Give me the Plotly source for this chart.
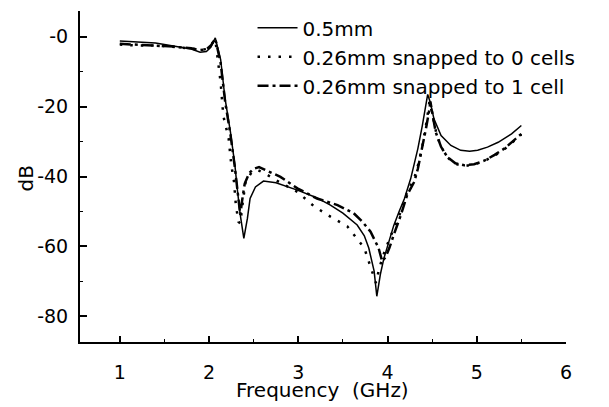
import plotly.graph_objects as go

# 0.5mm (solid)
freq_a = [1.0, 1.2, 1.4, 1.6, 1.8, 1.9, 1.97, 2.02, 2.07, 2.13, 2.18, 2.24, 2.29, 2.32, 2.35, 2.39,
          2.43, 2.46, 2.52, 2.61, 2.75, 2.99, 3.2, 3.36, 3.5, 3.66, 3.74, 3.79, 3.85, 3.88,
          3.92, 3.96, 4.0, 4.07, 4.13, 4.19, 4.26, 4.34, 4.39, 4.43, 4.45, 4.48, 4.52, 4.6,
          4.71, 4.82, 4.92, 5.01, 5.12, 5.24, 5.39, 5.5]
db_a = [-1.2, -1.4, -1.8, -2.6, -3.5, -4.4, -4.2, -3.0, -0.3, -6.5, -17.8, -27.3, -36.8, -44.4, -51.0, -57.7,
        -52.0, -46.3, -43.0, -41.3, -41.8, -43.9, -46.0, -48.2, -50.5, -53.9, -57.0, -60.5, -67.1, -74.3,
        -68.0, -63.4, -60.0, -54.0, -50.0, -46.3, -40.6, -32.0, -25.4, -18.8, -16.5, -18.8, -23.5, -28.3,
        -31.1, -32.5, -32.8, -32.5, -31.6, -30.2, -27.8, -25.4]

# 0.26mm snapped to 0 cells (dotted)
freq_b = [1.0, 1.2, 1.4, 1.6, 1.8, 1.9, 1.97, 2.02, 2.07, 2.13, 2.16, 2.22, 2.25, 2.28, 2.30, 2.33,
          2.35, 2.38, 2.41, 2.48, 2.55, 2.65, 2.8, 2.99, 3.18, 3.36, 3.55, 3.74, 3.78, 3.82, 3.87,
          3.91, 3.96, 4.02, 4.07, 4.15, 4.22, 4.30, 4.35, 4.40, 4.44, 4.47, 4.51, 4.55, 4.60,
          4.67, 4.76, 4.86, 4.97, 5.09, 5.2, 5.31, 5.4, 5.5]
db_b = [-2.2, -2.5, -2.5, -2.9, -3.3, -3.8, -3.5, -2.3, -0.8, -13.0, -22.6, -29.2, -36.8, -41.5, -48.0, -53.0,
        -53.4, -47.0, -41.5, -38.7, -38.2, -39.5, -41.8, -44.4, -48.6, -51.5, -54.3, -60.5, -63.5, -66.5, -70.5,
        -66.0, -62.0, -58.0, -55.0, -50.0, -44.5, -40.5, -36.0, -30.0, -24.0, -18.5, -23.0, -28.0, -31.5,
        -34.5, -36.4, -37.0, -36.6, -35.5, -34.0, -32.2, -30.2, -28.0]

# 0.26mm snapped to 1 cell (dash-dot)
freq_c = [1.0, 1.2, 1.4, 1.6, 1.8, 1.9, 1.97, 2.02, 2.07, 2.13, 2.18, 2.24, 2.29, 2.32, 2.35, 2.37,
          2.40, 2.45, 2.50, 2.56, 2.65, 2.8, 2.99, 3.21, 3.44, 3.62, 3.72, 3.81, 3.90, 3.94,
          3.98, 4.02, 4.07, 4.15, 4.22, 4.30, 4.34, 4.39, 4.43, 4.47, 4.48, 4.51, 4.54, 4.60,
          4.67, 4.76, 4.86, 4.97, 5.09, 5.2, 5.31, 5.4, 5.5]
db_c = [-2.0, -2.3, -2.4, -2.8, -3.3, -3.8, -3.6, -2.5, -0.5, -7.5, -18.5, -28.0, -37.5, -45.0, -51.0, -47.0,
        -42.0, -39.0, -37.8, -37.3, -38.3, -40.1, -43.4, -46.3, -48.2, -50.5, -53.0, -55.8, -60.5, -64.3,
        -63.0, -60.5, -56.7, -51.0, -45.3, -41.5, -37.8, -32.0, -26.4, -20.7, -18.5, -23.0, -27.3, -31.5,
        -34.4, -36.2, -36.8, -36.5, -35.4, -33.8, -32.0, -30.0, -27.8]

series_names = ["0.5mm", "0.26mm snapped to 0 cells", "0.26mm snapped to 1 cell"]

x_tickvals = [1, 2, 3, 4, 5, 6]
x_ticktext = ["1", "2", "3", "4", "5", "6"]
x_minor = [1.5, 2.5, 3.5, 4.5, 5.5]
y_tickvals = [0, -20, -40, -60, -80]
y_ticktext = ["-0", "-20", "-40", "-60", "-80"]
y_minor = [-10, -30, -50, -70]

FONT = "DejaVu Sans"

fig = go.Figure()
fig.add_trace(go.Scatter(x=freq_a, y=db_a, mode="lines", name=series_names[0],
                         line=dict(color="black", width=1.5)))
fig.add_trace(go.Scatter(x=freq_b, y=db_b, mode="lines", name=series_names[1],
                         line=dict(color="black", width=2.5, dash="2.5px,8px")))
fig.add_trace(go.Scatter(x=freq_c, y=db_c, mode="lines", name=series_names[2],
                         line=dict(color="black", width=2.5, dash="11px,4px,3px,4px")))

fig.update_layout(
    width=609, height=407,
    margin=dict(l=80, r=43, t=8, b=65),
    paper_bgcolor="white", plot_bgcolor="white",
    font=dict(family=FONT, color="black", size=19),
    showlegend=True,
    legend=dict(x=0.355, y=1.008, xanchor="left", yanchor="top",
                bgcolor="rgba(0,0,0,0)", font=dict(family=FONT, size=20, color="black"),
                itemwidth=40, tracegroupgap=0),
    xaxis=dict(range=[0.554, 6], showline=True, linecolor="black", linewidth=2,
               showgrid=False, zeroline=False, ticks="inside", ticklen=6, tickwidth=1.5,
               tickcolor="black", tickvals=x_tickvals, ticktext=x_ticktext,
               ticklabelstandoff=12, tickfont=dict(family=FONT, size=19, color="black"),
               minor=dict(tickvals=x_minor, ticks="inside", ticklen=3, tickwidth=1, tickcolor="black")),
    yaxis=dict(range=[-87.4, 7.4], showline=True, linecolor="black", linewidth=2,
               showgrid=False, zeroline=False, ticks="inside", ticklen=7, tickwidth=1.5,
               tickcolor="black", tickvals=y_tickvals, ticktext=y_ticktext,
               ticklabelstandoff=6, tickfont=dict(family=FONT, size=19, color="black"),
               minor=dict(tickvals=y_minor, ticks="inside", ticklen=3, tickwidth=1, tickcolor="black")),
    annotations=[
        dict(text="Frequency  (GHz)", xref="paper", yref="paper", x=0.498, y=-0.1437,
             xanchor="center", yanchor="middle", showarrow=False,
             font=dict(family=FONT, size=20, color="black")),
        dict(text="dB", xref="paper", yref="paper", x=-0.111, y=0.494, textangle=-90,
             xanchor="center", yanchor="middle", showarrow=False,
             font=dict(family=FONT, size=20, color="black")),
    ],
)

fig.write_html("out.html", config={"displayModeBar": False},
               post_script="document.body.style.margin='0';")
